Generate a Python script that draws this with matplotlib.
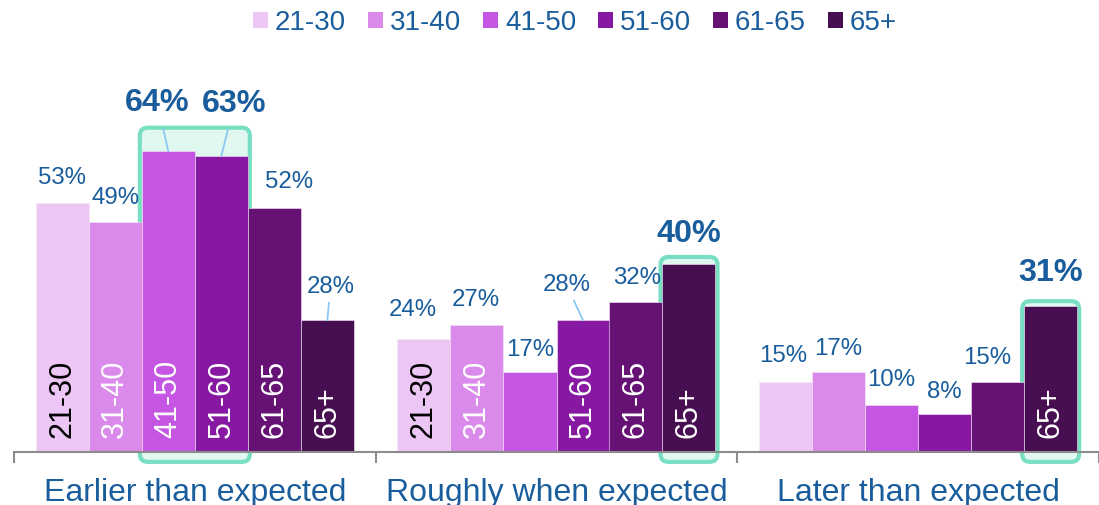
import matplotlib.pyplot as plt
from matplotlib.patches import Patch, FancyBboxPatch

plt.rcParams['font.family'] = ['Liberation Sans', 'DejaVu Sans']

groups = ['Earlier than expected', 'Roughly when expected', 'Later than expected']
ages = ['21-30', '31-40', '41-50', '51-60', '61-65', '65+']
earlier = [53, 49, 64, 63, 52, 28]
roughly = [24, 27, 17, 28, 32, 40]
later = [15, 17, 10, 8, 15, 31]
values = [earlier, roughly, later]

colors = ['#ECC7F5', '#DA8AEA', '#C556E3', '#8618A2', '#661274', '#480E52']
inner_colors = ['black', 'white', 'white', 'white', 'white', 'white']
text_blue = '#1A5D9C'
line_blue = '#8CC8F2'

# highlighted bars: (group, first bar, last bar, headroom above tallest)
highlights = [(0, 2, 3, 5.0), (1, 5, 5, 1.5), (2, 5, 5, 1.1)]
bold = {(0, 2), (0, 3), (1, 5), (2, 5)}
leader = {(0, 2), (0, 3), (0, 5), (1, 3)}
# label offsets in pixels from the top of each bar
offsets = [
    [(0, 25), (0, 24), (-11, 48), (13, 52), (15, 26), (3, 33)],
    [(-11, 29), (-1, 25), (0, 22), (-16, 35), (1, 24), (0, 30)],
    [(-2, 26), (0, 23), (0, 25), (0, 22), (-10, 24), (0, 33)],
]

W, H = 1099, 505
px_per_pct = 4.7
fig = plt.figure(figsize=(W / 100, H / 100), dpi=100)
ax = fig.add_axes([14 / W, 53 / H, (W - 14) / W, 452 / H])
ax.set_xlim(0, 3)
ax.set_ylim(0, 452 / px_per_pct)

bw = 53 / ((W - 14) / 3)

def bar_x(g, i):
    return g + 0.5 + (i - 2.5) * bw

for g, vals in enumerate(values):
    for i, v in enumerate(vals):
        x = bar_x(g, i)
        ax.bar(x, v, width=bw, color=colors[i], edgecolor='#F4E8F7',
               linewidth=0.4, zorder=2)
        if v >= 20:
            ax.text(x, 3.0, ages[i], rotation=90, ha='center', va='bottom',
                    fontsize=22, color=inner_colors[i], zorder=3)
        dx, dy = offsets[g][i]
        is_bold = (g, i) in bold
        arrow = None
        if (g, i) in leader:
            arrow = dict(arrowstyle='-', color=line_blue, lw=1.3,
                         shrinkA=6 if is_bold else 1, shrinkB=0)
        ax.annotate(f'{v}%', xy=(x, v), xytext=(dx, dy),
                    textcoords='offset pixels', ha='center', va='center',
                    fontsize=23.3 if is_bold else 17.3,
                    fontweight='bold' if is_bold else 'normal',
                    color=text_blue, arrowprops=arrow, zorder=4,
                    annotation_clip=False)

for g, first, last, head in highlights:
    pad = 2 / ((W - 14) / 3)
    x0 = bar_x(g, first) - bw / 2 - pad
    x1 = bar_x(g, last) + bw / 2 + pad
    top = max(values[g][first:last + 1]) + head
    y0 = -2.1
    box = FancyBboxPatch((x0, y0), x1 - x0, top - y0,
                         boxstyle='round,pad=0,rounding_size=0.022',
                         mutation_aspect=77, facecolor='#E1F8F1',
                         edgecolor='#79DFC3', linewidth=3, clip_on=False,
                         zorder=1)
    ax.add_patch(box)

for side in ['top', 'right', 'left']:
    ax.spines[side].set_visible(False)
ax.spines['bottom'].set_color('#8C8C8C')
ax.spines['bottom'].set_linewidth(1.5)
ax.spines['bottom'].set_zorder(2.5)
ax.set_yticks([])
ax.set_xticks([0.5, 1.5, 2.5], groups)
ax.set_xticks([0, 1, 2, 3], minor=True)
ax.tick_params(axis='x', which='major', length=0, pad=19, labelsize=23,
               labelcolor=text_blue)
ax.tick_params(axis='x', which='minor', length=8, width=1.5,
               color='#8C8C8C', direction='out')

handles = [Patch(facecolor=c) for c in colors]
fig.legend(handles, ages, loc='center', bbox_to_anchor=(575 / W, 1 - 23 / H),
           ncol=6, frameon=False, fontsize=20, handlelength=0.54,
           handleheight=0.54, handletextpad=0.25, columnspacing=0.79,
           labelcolor=text_blue)

fig.savefig('out.png', dpi=100)
